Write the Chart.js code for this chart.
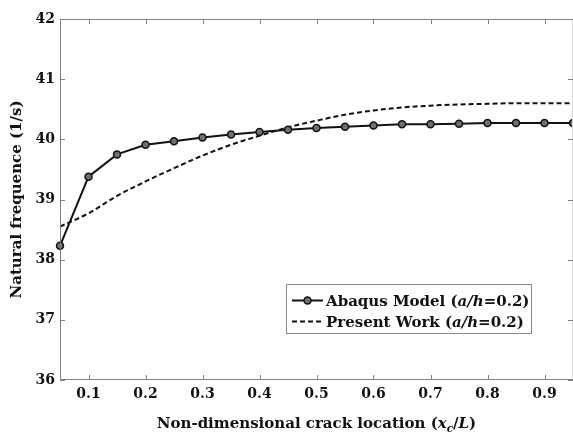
<!DOCTYPE html>
<html>
<head>
<meta charset="utf-8">
<script src="https://cdn.jsdelivr.net/npm/chart.js@4"></script>
<style>
  html, body { margin: 0; padding: 0; background: #fff; }
  #wrap { width: 573px; height: 435px; }
</style>
</head>
<body>
<div id="wrap"><canvas id="freqChart"></canvas></div>
<script>
// crack location (x_c / L) and natural frequency (1/s)
const crackLoc = [0.05, 0.10, 0.15, 0.20, 0.25, 0.30, 0.35, 0.40, 0.45, 0.50,
                  0.55, 0.60, 0.65, 0.70, 0.75, 0.80, 0.85, 0.90, 0.95];
const abaqusFreq = [38.23, 39.38, 39.75, 39.91, 39.97, 40.03, 40.08, 40.12, 40.16, 40.19,
                    40.21, 40.23, 40.25, 40.25, 40.26, 40.27, 40.27, 40.27, 40.27];
const presentFreq = [38.55, 38.77, 39.06, 39.30, 39.52, 39.73, 39.91, 40.06, 40.20, 40.31,
                     40.41, 40.48, 40.53, 40.56, 40.58, 40.59, 40.60, 40.60, 40.60];
const seriesNames = ['Abaqus Model', 'Present Work'];
const xTicks = [0.1, 0.2, 0.3, 0.4, 0.5, 0.6, 0.7, 0.8, 0.9];
const yTicks = [36, 37, 38, 39, 40, 41, 42];

const FONT = '"DejaVu Serif", "Liberation Serif", serif';
const frameColor = '#7f7f7f';

// draw a run of text pieces (bold, optional italic / subscript)
function drawRuns(ctx, runs, x, y, size, align) {
    const fontOf = r => (r.i ? 'italic ' : '') + 'bold ' + (r.sub ? size * 0.7 : size) + 'px ' + FONT;
    let total = 0;
    runs.forEach(r => { ctx.font = fontOf(r); total += ctx.measureText(r.t).width; });
    let cx = align === 'center' ? x - total / 2 : x;
    ctx.textBaseline = 'alphabetic';
    ctx.textAlign = 'left';
    runs.forEach(r => {
        ctx.font = fontOf(r);
        ctx.fillText(r.t, cx, y + (r.sub ? size * 0.25 : 0));
        cx += ctx.measureText(r.t).width;
    });
}

// frame, inward ticks, x title, legend
const decorPlugin = {
    id: 'decor',
    afterDraw(chart) {
        const { ctx, chartArea: a, scales } = chart;
        ctx.save();
        ctx.lineWidth = 1;
        // light right border
        ctx.strokeStyle = '#d8d8d8';
        ctx.beginPath();
        ctx.moveTo(a.right - 0.5, a.top); ctx.lineTo(a.right - 0.5, a.bottom);
        ctx.stroke();
        ctx.strokeStyle = frameColor;
        ctx.beginPath();
        ctx.moveTo(a.right, a.top + 0.5); ctx.lineTo(a.left + 0.5, a.top + 0.5);
        ctx.lineTo(a.left + 0.5, a.bottom - 0.5); ctx.lineTo(a.right, a.bottom - 0.5);
        xTicks.forEach(v => {
            const px = Math.round(scales.x.getPixelForValue(v)) + 0.5;
            ctx.moveTo(px, a.bottom); ctx.lineTo(px, a.bottom - 5);
            ctx.moveTo(px, a.top); ctx.lineTo(px, a.top + 5);
        });
        yTicks.forEach(v => {
            const py = Math.round(scales.y.getPixelForValue(v)) + 0.5;
            ctx.moveTo(a.left, py); ctx.lineTo(a.left + 5, py);
            ctx.moveTo(a.right, py); ctx.lineTo(a.right - 5, py);
        });
        ctx.stroke();

        // x axis title
        ctx.fillStyle = '#111';
        drawRuns(ctx, [
            { t: 'Non-dimensional crack location (' },
            { t: 'x', i: true }, { t: 'c', i: true, sub: true },
            { t: '/' }, { t: 'L', i: true }, { t: ')' }
        ], (a.left + a.right) / 2, 428, 15, 'center');

        // legend
        const bx = 286, by = 284, bw = 245, bh = 49;
        ctx.fillStyle = '#fff';
        ctx.fillRect(bx, by, bw, bh);
        ctx.strokeStyle = '#8a8a8a';
        ctx.strokeRect(bx + 0.5, by + 0.5, bw, bh);
        const rows = [by + 16.5, by + 37.5];
        ctx.strokeStyle = '#111';
        ctx.lineWidth = 2;
        ctx.beginPath();
        ctx.moveTo(bx + 6, rows[0]); ctx.lineTo(bx + 37, rows[0]);
        ctx.stroke();
        ctx.beginPath();
        ctx.arc(bx + 21.5, rows[0], 3.5, 0, Math.PI * 2);
        ctx.fillStyle = '#707070';
        ctx.fill();
        ctx.lineWidth = 1.5;
        ctx.stroke();
        ctx.lineWidth = 2;
        ctx.setLineDash([5, 3]);
        ctx.beginPath();
        ctx.moveTo(bx + 6, rows[1]); ctx.lineTo(bx + 37, rows[1]);
        ctx.stroke();
        ctx.setLineDash([]);
        ctx.fillStyle = '#111';
        seriesNames.forEach((name, k) => {
            drawRuns(ctx, [
                { t: name + ' (' }, { t: 'a/h', i: true }, { t: '=0.2)' }
            ], bx + 40, rows[k] + 5.5, 15, 'left');
        });
        ctx.restore();
    }
};

const tickFont = { family: FONT, size: 14, weight: 'bold' };

new Chart(document.getElementById('freqChart').getContext('2d'), {
    type: 'line',
    data: {
        datasets: [
            {
                label: seriesNames[0],
                data: crackLoc.map((x, i) => ({ x: x, y: abaqusFreq[i] })),
                borderColor: '#111',
                borderWidth: 2,
                pointRadius: 3.5,
                pointBorderWidth: 1.5,
                pointBackgroundColor: '#707070',
                pointBorderColor: '#111',
                tension: 0,
                clip: false
            },
            {
                label: seriesNames[1],
                data: crackLoc.map((x, i) => ({ x: x, y: presentFreq[i] })),
                borderColor: '#111',
                borderWidth: 2,
                borderDash: [5, 3],
                pointRadius: 0,
                cubicInterpolationMode: 'monotone'
            }
        ]
    },
    options: {
        responsive: true,
        maintainAspectRatio: false,
        animation: false,
        events: [],
        layout: { autoPadding: false, padding: { top: 19, right: 0, left: 0, bottom: 0 } },
        plugins: { legend: { display: false }, tooltip: { enabled: false } },
        scales: {
            x: {
                type: 'linear',
                min: 0.05,
                max: 0.95,
                afterBuildTicks: s => { s.ticks = xTicks.map(v => ({ value: v })); },
                afterFit: s => { s.height = 55; s.paddingLeft = 0; s.paddingRight = 0; },
                ticks: {
                    font: tickFont, color: '#111', padding: 6,
                    maxRotation: 0, autoSkip: false,
                    callback: v => v.toFixed(1)
                },
                grid: { display: false, drawTicks: false },
                border: { display: false }
            },
            y: {
                min: 36,
                max: 42,
                afterBuildTicks: s => { s.ticks = yTicks.map(v => ({ value: v })); },
                afterFit: s => { s.width = 60; s.paddingTop = 0; s.paddingBottom = 0; },
                ticks: { font: tickFont, color: '#111', padding: 5 },
                grid: { display: false, drawTicks: false },
                border: { display: false },
                title: {
                    display: true,
                    text: 'Natural frequence (1/s)',
                    color: '#111',
                    font: { family: FONT, size: 15, weight: 'bold' },
                    padding: { top: 8, bottom: 0 }
                }
            }
        }
    },
    plugins: [decorPlugin]
});
</script>
</body>
</html>
